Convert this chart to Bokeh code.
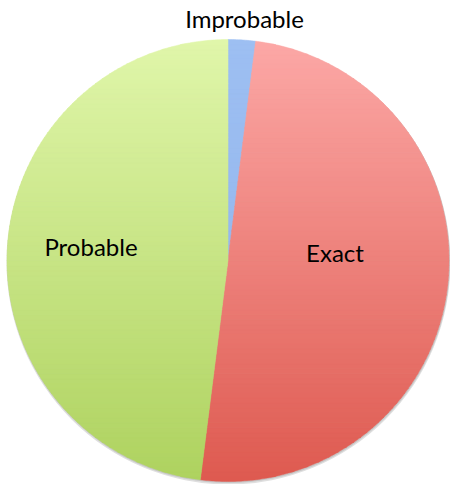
import numpy as np
from bokeh.plotting import figure
from bokeh.models import Range1d, ColumnDataSource
from bokeh.embed import file_html
from bokeh.resources import INLINE
from bokeh.core.properties import value

# ---- data ----
categories = ["Improbable", "Exact", "Probable"]
shares = [2.0, 50.0, 48.0]
top_colors = ["#9dbff2", "#fca8a6", "#e0f6aa"]
bottom_colors = ["#8fb2ea", "#de5a50", "#aed25f"]

# ---- layout (reference pixel frame, y up) ----
W_REF, H_REF = 450, 484
CX, CY, R = 227.5, H_REF - 260.0, 221.0
label_pos = {  # (x, baseline y) in reference pixels
    "Improbable": (244, 18),
    "Probable": (90.5, 246),
    "Exact": (334.5, 252),
}


def hex2rgb(h):
    h = h.lstrip("#")
    return np.array([int(h[i:i + 2], 16) for i in (0, 2, 4)], dtype=float)


def rgb2hex(c):
    c = np.clip(np.round(c), 0, 255).astype(int)
    return "#%02x%02x%02x" % tuple(c)


def clip_half(pts, keep, inter):
    out = []
    n = len(pts)
    for i in range(n):
        cur, prev = pts[i], pts[i - 1]
        if keep(cur):
            if not keep(prev):
                out.append(inter(prev, cur))
            out.append(cur)
        elif keep(prev):
            out.append(inter(prev, cur))
    return out


def y_inter(yc):
    def f(a, b):
        t = (yc - a[1]) / (b[1] - a[1])
        return (a[0] + t * (b[0] - a[0]), yc)
    return f


def clip_band(poly, ylo, yhi):
    pts = clip_half(poly, lambda p: p[1] >= ylo, y_inter(ylo))
    if not pts:
        return []
    pts = clip_half(pts, lambda p: p[1] <= yhi, y_inter(yhi))
    return pts


total = sum(shares)
xs, ys, cols = [], [], []
N = 90
y_top, y_bot = CY + R, CY - R
edges = np.linspace(y_bot, y_top, N + 1)
cum = 0.0
for cat, s, ct, cb in zip(categories, shares, top_colors, bottom_colors):
    a0 = cum / total * 2 * np.pi
    a1 = (cum + s) / total * 2 * np.pi
    cum += s
    n = max(6, int(np.degrees(a1 - a0) * 2))
    t = np.linspace(a0, a1, n)
    poly = [(CX, CY)] + [(CX + R * np.sin(a), CY + R * np.cos(a)) for a in t]
    c_top, c_bot = hex2rgb(ct), hex2rgb(cb)
    for i in range(N):
        lo, hi = edges[i], edges[i + 1]
        pts = clip_band(poly, lo - 0.3, hi + 0.3)
        if len(pts) < 3:
            continue
        f = (y_top - 0.5 * (lo + hi)) / (y_top - y_bot)
        col = rgb2hex(c_top + (c_bot - c_top) * f)
        xs.append([p[0] for p in pts])
        ys.append([p[1] for p in pts])
        cols.append(col)

p = figure(width=W_REF, height=H_REF, x_range=Range1d(0, W_REF), y_range=Range1d(0, H_REF),
           output_backend="svg", toolbar_location=None, min_border=0)
p.axis.visible = False
p.grid.visible = False
p.outline_line_color = None
p.background_fill_color = "white"

# soft shadow
p.circle(x=[CX + 0.5], y=[CY - 2.0], radius=R + 1.0, fill_color="#808080",
         fill_alpha=0.25, line_color=None)
p.circle(x=[CX + 0.5], y=[CY - 1.0], radius=R + 0.5, fill_color="#808080",
         fill_alpha=0.25, line_color=None)

p.patches(xs=xs, ys=ys, fill_color=cols, line_color=cols, line_width=0.5)

src = ColumnDataSource(dict(
    x=[label_pos[c][0] for c in categories],
    y=[H_REF - label_pos[c][1] for c in categories],
    text=categories,
))
p.text(x="x", y="y", text="text", source=src, text_font=value("Lato"),
       text_font_size="24px", text_align="center", text_baseline="alphabetic",
       text_color="#000000")

open("out.html", "w").write(file_html(p, INLINE))
